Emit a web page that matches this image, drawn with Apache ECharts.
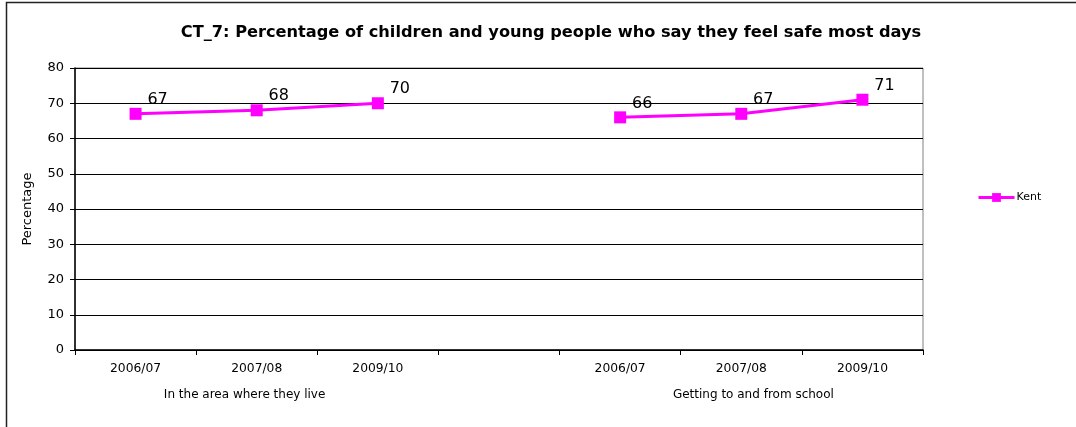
<!DOCTYPE html>
<html><head><meta charset="utf-8">
<script src="https://cdn.jsdelivr.net/npm/echarts@6/dist/echarts.min.js"></script>
<style>html,body{margin:0;padding:0;background:#fff}#c{width:1076px;height:427px}</style>
</head><body><div id="c"></div>
<script>
const titleText = 'CT_7: Percentage of children and young people who say they feel safe most days';
const categories = ['2006/07','2007/08','2009/10','','2006/07','2007/08','2009/10'];
const groupLabels = ['In the area where they live','Getting to and from school'];
const groupPositions = [1.4, 5.6];
const kentValues = [67, 68, 70, null, 66, 67, 71];
const yTicks = [0,10,20,30,40,50,60,70,80];

const chart = echarts.init(document.getElementById('c'), null, {renderer:'canvas'});
const font = '"DejaVu Sans", Arial, sans-serif';
chart.setOption({
  animation:false,
  backgroundColor:'#fff',
  title:{text:titleText,left:546,top:20,textAlign:'center',
    textStyle:{fontFamily:font,fontSize:16.2,fontWeight:'bold',color:'#000'}},
  graphic:[{type:'rect',shape:{x:6.5,y:2.5,width:1200,height:600},
    style:{fill:null,stroke:'#222',lineWidth:1.5},silent:true}],
  legend:{left:977,top:192,padding:0,itemWidth:36,itemHeight:11,itemGap:4,
    lineStyle:{width:3},
    textStyle:{fontFamily:font,fontSize:11,color:'#000',padding:[0,0,0,-3]},
    data:['Kent']},
  grid:{left:75,right:153,top:68,bottom:77,show:true,borderColor:'#808080',borderWidth:1,backgroundColor:'transparent'},
  xAxis:[{type:'category',data:categories,boundaryGap:true,
    axisLine:{lineStyle:{color:'#000',width:1.5}},
    axisTick:{show:true,length:5,lineStyle:{color:'#000'},alignWithLabel:false,interval:0},
    axisLabel:{interval:0,margin:13,fontFamily:font,fontSize:12.3,color:'#000'}},
   {type:'value',min:0,max:7,position:'bottom',offset:26,
    axisLine:{show:false},axisTick:{show:false},splitLine:{show:false},
    axisLabel:{customValues:groupPositions,showMinLabel:true,showMaxLabel:true,margin:13,
      fontFamily:font,fontSize:12,color:'#000',
      formatter:(v)=>{const i=groupPositions.findIndex(p=>Math.abs(p-v)<1e-6);return i>=0?groupLabels[i]:'';}}}],
  yAxis:{type:'value',min:0,max:80,interval:10,
    name:'Percentage',nameLocation:'middle',nameGap:41,nameRotate:90,
    nameTextStyle:{fontFamily:font,fontSize:13,color:'#000'},
    axisLine:{show:true,lineStyle:{color:'#000',width:1.5}},
    axisTick:{show:true,length:5,lineStyle:{color:'#000'}},
    axisLabel:{margin:11,fontFamily:font,fontSize:13,color:'#000',
      formatter:(v)=>yTicks.includes(v)?String(v):''},
    splitLine:{show:true,lineStyle:{color:'#000',width:1}}},
  series:[{name:'Kent',type:'line',data:kentValues,connectNulls:false,
    color:'#FF00FF',symbol:'rect',symbolSize:12,
    lineStyle:{color:'#FF00FF',width:3},itemStyle:{color:'#FF00FF'},
    label:{show:true,position:'top',offset:[22,5],fontFamily:font,fontSize:16,color:'#000'}}]
});
</script></body></html>
